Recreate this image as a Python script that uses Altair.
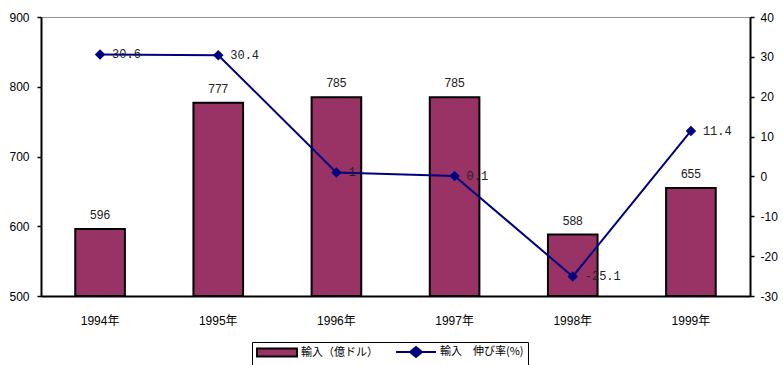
import altair as alt
import pandas as pd

# Data
years = ["1994年", "1995年", "1996年", "1997年", "1998年", "1999年"]
imports = [596, 777, 785, 785, 588, 655]          # 輸入（億ドル）
growth = [30.6, 30.4, 1, 0.1, -25.1, 11.4]         # 輸入 伸び率(%)
series = ["輸入（億ドル）", "輸入　伸び率(%)"]
left_ticks = [500, 600, 700, 800, 900]
right_ticks = [-30, -20, -10, 0, 10, 20, 30, 40]

BAR_COLOR = "#993366"
LINE_COLOR = "#000080"
NUM_FONT = "Liberation Sans"
JP_FONT = "Liberation Sans, 'Noto Sans CJK JP'"

df = pd.DataFrame({"year": years, "imports": imports, "growth": growth})

# legend symbols (unit = 5 px, centred 5 px into the entry): a 40x8 swatch for the
# bars, and a 40 px line with a diamond for the growth series
BAR_SYMBOL = "M-1,-0.8H7V0.8H-1Z"
LINE_SYMBOL = "M-1,0H7M3,-1L4.2,0L3,1L1.8,0Z"

legend = alt.Legend(
    title=None, orient="none", legendX=211, legendY=325, direction="horizontal",
    symbolSize=100, symbolStrokeWidth=2, symbolOpacity=1,
    labelFont="Noto Sans CJK JP", labelFontSize=11, labelColor="black",
    labelOffset=33, columnPadding=14, padding=4,
    strokeColor="black", fillColor="white",
)

x = alt.X(
    "year:N", sort=years, title=None,
    scale=alt.Scale(paddingInner=0.58, paddingOuter=0.29),
    axis=alt.Axis(labelAngle=0, ticks=False, tickSize=0, labelPadding=19,
                  domainColor="black", domainWidth=2, labelFont=JP_FONT,
                  labelFontSize=12, labelColor="black"),
)

base = alt.Chart(df).encode(x=x)

y_left = alt.Y(
    "imports:Q", title=None,
    scale=alt.Scale(domain=[500, 900], zero=False, nice=False),
    axis=alt.Axis(orient="left", values=left_ticks, grid=False,
                  domainColor="black", domainWidth=2, tickColor="black",
                  tickWidth=1.5, tickSize=4, labelPadding=8, labelOverlap=False,
                  labelFont=NUM_FONT, labelFontSize=12, labelColor="black"),
)

bars = base.mark_bar(fill=BAR_COLOR, stroke="black", strokeWidth=2).encode(
    y=y_left, y2=alt.datum(500))

bar_labels = base.mark_text(dy=-10, baseline="alphabetic", font=NUM_FONT,
                            fontSize=12, color="#222222").encode(
    y=y_left, text="imports:Q")

left = alt.layer(bars, bar_labels)

y_right = alt.Y(
    "growth:Q", title=None,
    scale=alt.Scale(domain=[-30, 40], nice=False),
    axis=alt.Axis(orient="right", values=right_ticks, grid=False,
                  domainColor="black", domainWidth=2, tickColor="black",
                  tickWidth=1.5, tickSize=4, labelPadding=6, labelOverlap=False,
                  labelExpr="toString(datum.value)",
                  labelFont=NUM_FONT, labelFontSize=12, labelColor="black"),
)

line = base.mark_line(color=LINE_COLOR, strokeWidth=2).encode(y=y_right)
points = base.mark_point(shape="diamond", filled=True, size=110,
                         color=LINE_COLOR, opacity=1).encode(y=y_right)
line_labels = base.transform_calculate(lbl="'' + datum.growth").mark_text(
    align="left", baseline="middle", dx=12, font="Liberation Mono",
    fontSize=12, color="#222222").encode(y=y_right, text="lbl:N")

right = alt.layer(line, points, line_labels)

# legend-only layer: its rows are filtered out, the legend is built from the scale domains
key = alt.Chart(pd.DataFrame({"series": series})).transform_filter(
    "false").mark_point(filled=True).encode(
    fill=alt.Fill("series:N", legend=legend,
                  scale=alt.Scale(domain=series, range=[BAR_COLOR, LINE_COLOR])),
    stroke=alt.Stroke("series:N", legend=legend,
                      scale=alt.Scale(domain=series, range=["black", LINE_COLOR])),
    shape=alt.Shape("series:N", legend=legend,
                    scale=alt.Scale(domain=series, range=[BAR_SYMBOL, LINE_SYMBOL])),
)

chart = alt.layer(left, right, key).resolve_scale(y="independent").properties(
    width=709, height=279,
    padding={"left": 41, "top": 17, "right": 33, "bottom": 69},
    autosize=alt.AutoSizeParams(type="none"),
    background="white",
).configure_view(fill="#C0C0C0", stroke="#909090", strokeWidth=1)

chart.save("out.html", embed_options={"renderer": "svg", "actions": False})
